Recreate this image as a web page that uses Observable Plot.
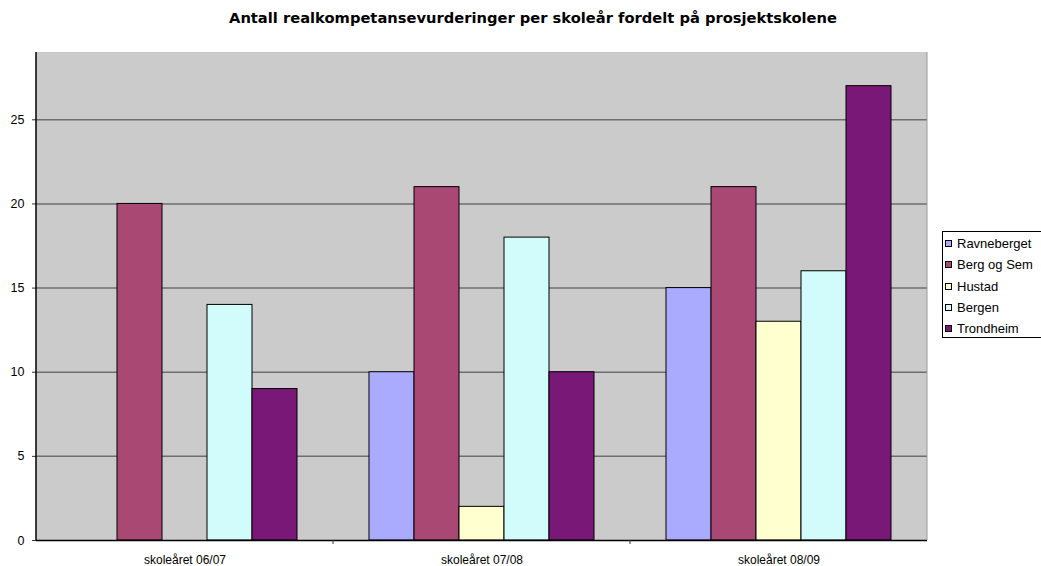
<!DOCTYPE html>
<html>
<head>
<meta charset="utf-8">
<script src="https://cdn.jsdelivr.net/npm/d3@7"></script>
<script src="https://cdn.jsdelivr.net/npm/@observablehq/plot@0.6"></script>
<style>
  html, body { margin: 0; padding: 0; background: #ffffff; }
  #wrap { position: relative; width: 1041px; height: 566px; overflow: hidden; font-family: "Liberation Sans", Arial, sans-serif; }
  #title { position: relative; height: 40px; width: 1041px; }
  #title span { position: absolute; left: 533px; top: 10px; transform: translateX(-50%); white-space: nowrap; font-family: "DejaVu Sans", Verdana, sans-serif; font-weight: bold; font-size: 13px; line-height: 16px; color: #000; }
  #legend { position: absolute; left: 942px; top: 231px; width: 104px; height: 107px; border: 1px solid #000; background: #fff; box-sizing: border-box; padding-top: 1px; }
  .item { height: 21.3px; line-height: 21.3px; font-size: 13px; color: #000; white-space: nowrap; position: relative; }
  .sw { position: absolute; left: 2px; top: 7px; width: 5px; height: 5px; border: 1px solid #000; }
  .lab { position: absolute; left: 14px; top: 0; }
</style>
</head>
<body>
<div id="wrap">
  <div id="title"><span id="ttl">Antall realkompetansevurderinger per skoleår fordelt på prosjektskolene</span></div>
  <div id="chart"></div>
  <div id="legend"></div>
</div>
<script>
const years = ["skoleåret 06/07", "skoleåret 07/08", "skoleåret 08/09"];
const schools = ["Ravneberget", "Berg og Sem", "Hustad", "Bergen", "Trondheim"];
const colors = ["#aaaaff", "#aa4874", "#ffffd0", "#d2fcfc", "#7a1878"];
const ravneberget = [0, 10, 15];
const bergOgSem = [20, 21, 21];
const hustad = [0, 2, 13];
const bergen = [14, 18, 16];
const trondheim = [9, 10, 27];
const yTicks = [0, 5, 10, 15, 20, 25];

const seriesValues = [ravneberget, bergOgSem, hustad, bergen, trondheim];
const data = [];
years.forEach((yr, i) => {
  schools.forEach((s, j) => {
    data.push({ year: yr, school: s, value: seriesValues[j][i] });
  });
});

// fit title width to the reference's span
const ttl = document.getElementById("ttl");
const tw = ttl.getBoundingClientRect().width;
if (tw > 0) {
  const fs = 13 * 608 / tw;
  ttl.style.fontSize = fs.toFixed(2) + "px";
}

const W = 1041, H = 526, mL = 36, mR = 114, mT = 12, mB = 26;

const plot = Plot.plot({
  width: W,
  height: H,
  marginLeft: mL,
  marginRight: mR,
  marginTop: mT,
  marginBottom: mB,
  style: { fontFamily: "'Liberation Sans', Arial, sans-serif", fontSize: "12px", background: "transparent" },
  fx: { domain: years, padding: 0, label: null, axis: null },
  x: { domain: schools, paddingInner: 0, paddingOuter: 0.73, axis: null },
  y: { domain: [0, 29], axis: null },
  color: { domain: schools, range: colors },
  marks: [
    Plot.gridY(yTicks.filter(d => d > 0), { stroke: "#6e6e6e", strokeOpacity: 1, strokeWidth: 1.5 }),
    Plot.barY(data.filter(d => d.value > 0), { fx: "year", x: "school", y: "value", fill: "school", stroke: "#000", strokeWidth: 1 }),
    Plot.ruleY([0], { stroke: "#000", strokeWidth: 1.5 }),
    Plot.axisY(yTicks, { anchor: "left", tickSize: 4, tickPadding: 8, fontSize: 12.5, label: null, stroke: "#333" }),
    Plot.axisFx({ anchor: "bottom", tickSize: 0, tickPadding: 15, fontSize: 12, label: null })
  ]
});

document.getElementById("chart").appendChild(plot);

// background and axis decorations using the plot's own scales
const svg = d3.select(plot);
const fx = plot.scale("fx");
const yS = plot.scale("y");
const y0 = yS.apply(0), yTop = yS.apply(29);
const xLeft = fx.apply(years[0]);
const xRight = fx.apply(years[years.length - 1]) + fx.bandwidth;
svg.insert("rect", ":first-child")
  .attr("x", xLeft).attr("y", yTop).attr("width", xRight - xLeft).attr("height", y0 - yTop)
  .attr("fill", "#cbcbcb");
svg.append("line").attr("x1", xLeft).attr("x2", xLeft).attr("y1", yTop).attr("y2", y0)
  .attr("stroke", "#000").attr("stroke-width", 1.5);
svg.append("line").attr("x1", xRight).attr("x2", xRight).attr("y1", yTop).attr("y2", y0)
  .attr("stroke", "#999").attr("stroke-width", 1);
years.forEach((yr, i) => {
  if (i === 0) return;
  const xb = fx.apply(yr);
  svg.append("line").attr("x1", xb).attr("x2", xb).attr("y1", y0).attr("y2", y0 + 4)
    .attr("stroke", "#333").attr("stroke-width", 1);
});

// legend
const leg = document.getElementById("legend");
schools.forEach((s, j) => {
  const it = document.createElement("div");
  it.className = "item";
  it.innerHTML = `<span class="sw" style="background:${colors[j]}"></span><span class="lab">${s}</span>`;
  leg.appendChild(it);
});
</script>
</body>
</html>
